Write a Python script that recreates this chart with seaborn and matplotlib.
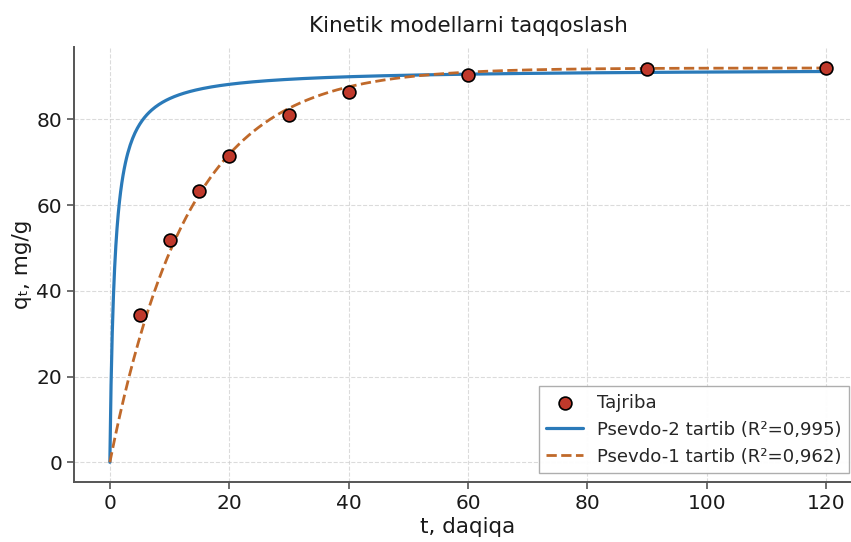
import numpy as np
import pandas as pd
import matplotlib
matplotlib.use("Agg")
import matplotlib.pyplot as plt
import seaborn as sns

# ==================================================
# DATA
# ==================================================
t_exp = [5, 10, 15, 20, 30, 40, 60, 90, 120]
q_exp = [34.4, 51.8, 63.3, 71.4, 81.0, 86.4, 90.4, 91.8, 91.9]

# fitted model parameters
qe_pso, k2_pso = 91.8, 0.0133      # pseudo-second order
qe_pfo, k1_pfo = 92.0, 0.076       # pseudo-first order
t_max = 120

labels = ["Tajriba", "Psevdo-2 tartib (R²=0,995)", "Psevdo-1 tartib (R²=0,962)"]

# ==================================================
# MODEL CURVES
# ==================================================
t_fit = np.linspace(0, t_max, 600)
q_pso = qe_pso**2 * k2_pso * t_fit / (1 + qe_pso * k2_pso * t_fit)
q_pfo = qe_pfo * (1 - np.exp(-k1_pfo * t_fit))

df_exp = pd.DataFrame({"t": t_exp, "q": q_exp})
df_fit = pd.DataFrame({"t": t_fit, "pso": q_pso, "pfo": q_pfo})

# ==================================================
# PLOT
# ==================================================
sns.set_style("ticks")
plt.rcParams["font.family"] = ["DejaVu Sans"]

fig = plt.figure(figsize=(8.51, 5.42), dpi=100)
ax = fig.add_axes([0.087, 0.1107, 0.926, 0.8026])

sns.scatterplot(data=df_exp, x="t", y="q", ax=ax, s=85, color="#c0392b",
                edgecolor="black", linewidth=1.2, zorder=5, label=labels[0])
sns.lineplot(data=df_fit, x="t", y="pso", ax=ax, color="#2a7ab9",
             linewidth=2.3, label=labels[1], zorder=3)
sns.lineplot(data=df_fit, x="t", y="pfo", ax=ax, color="#c0692a",
             linewidth=2.0, linestyle="--", label=labels[2], zorder=4)

ax.set_xlim(-6, 126)
ax.set_ylim(-4.6, 96.9)
ax.set_xticks([0, 20, 40, 60, 80, 100, 120])
ax.set_yticks([0, 20, 40, 60, 80])

ax.grid(True, linestyle="--", color="#cccccc", linewidth=0.8, alpha=0.7)
ax.set_axisbelow(True)
sns.despine(ax=ax)
for side in ["left", "bottom"]:
    ax.spines[side].set_color("#555555")
    ax.spines[side].set_linewidth(1.4)
ax.tick_params(colors="#555555", labelcolor="#1a1a1a", labelsize=14.5,
               length=5, width=1.2)

ax.set_title("Kinetik modellarni taqqoslash", fontsize=15.5, color="#1a1a1a", pad=11)
ax.set_xlabel("t, daqiqa", fontsize=15.5, color="#1a1a1a", labelpad=3)
ax.set_ylabel("qₜ, mg/g", fontsize=15.5, color="#1a1a1a", labelpad=3)

leg = ax.legend(loc="lower right", bbox_to_anchor=(0.9835, 0.0207),
                borderaxespad=0, fontsize=13.1, fancybox=False,
                edgecolor="#aaaaaa", framealpha=0.95)

fig.savefig("out.png", dpi=100)
plt.close(fig)
